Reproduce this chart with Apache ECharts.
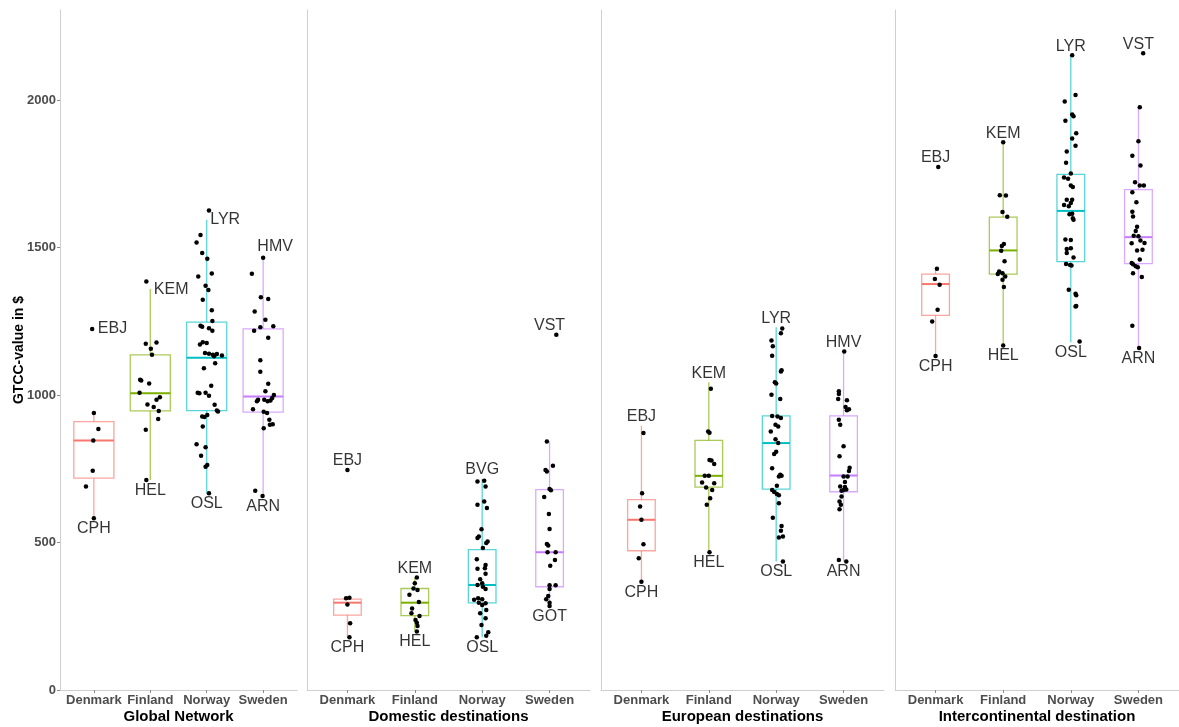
<!DOCTYPE html>
<html>
<head>
<meta charset="utf-8">
<script src="https://cdn.jsdelivr.net/npm/echarts@6/dist/echarts.min.js"></script>
<style>
html,body{margin:0;padding:0;background:#fff;}
#chart{width:1179px;height:727px;}
</style>
</head>
<body>
<div id="chart"></div>
<script>
// ---------- DATA ----------
const categories = ['Denmark', 'Finland', 'Norway', 'Sweden'];
const panelTitles = ['Global Network', 'Domestic destinations', 'European destinations', 'Intercontinental destination'];
const yTicks = [0, 500, 1000, 1500, 2000];
const yAxisTitle = 'GTCC-value in $';

// box statistics per category: [lower whisker, Q1, median, Q3, upper whisker]
const globalBoxes = [[582, 718, 846, 910, 939], [712, 946, 1006, 1136, 1359], [667, 947, 1126, 1247, 1594], [658, 942, 995, 1224, 1464]];
const domesticBoxes = [[179, 254, 296, 308, 313], [198, 252, 296, 344, 382], [179, 295, 356, 476, 715], [283, 350, 467, 679, 842]];
const europeanBoxes = [[367, 472, 577, 645, 896], [467, 688, 726, 846, 1043], [436, 681, 837, 929, 1230], [436, 672, 727, 929, 1147]];
const intercontBoxes = [[1132, 1270, 1376, 1410, 1428], [1168, 1410, 1490, 1603, 1857], [1179, 1452, 1624, 1748, 2152], [1160, 1445, 1535, 1696, 1975]];

// airports: [jitter offset (category units), GTCC value]
const globalDenmark = [[0, 939], [0.08, 885], [-0.01, 846], [-0.02, 743], [-0.14, 690], [0, 582], [-0.03, 1224]];
const globalFinland = [[-0.07, 1385], [-0.08, 1174], [0.11, 1178], [0.01, 1157], [0.03, 1136], [-0.18, 1052], [-0.16, 1049], [-0.02, 1039], [-0.19, 1008], [0.17, 992], [0.11, 984], [-0.05, 968], [0.06, 959], [0.15, 946], [0.14, 919], [-0.08, 882], [-0.07, 712]];
const globalNorway = [[0.04, 1625], [-0.11, 1542], [-0.18, 1517], [-0.08, 1481], [0.01, 1462], [-0.15, 1402], [0.09, 1412], [-0.02, 1370], [0.03, 1356], [-0.07, 1323], [0.09, 1287], [0.1, 1251], [-0.11, 1235], [-0.08, 1231], [0.04, 1226], [0.1, 1218], [-0.12, 1171], [-0.07, 1179], [0, 1176], [-0.03, 1142], [0.04, 1140], [0.11, 1136], [0.18, 1139], [0.13, 1131], [0.27, 1134], [0.15, 1108], [-0.05, 1091], [0.08, 1031], [-0.16, 1008], [-0.13, 1006], [-0.02, 1008], [0.04, 997], [0.14, 967], [0.18, 947], [0.2, 944], [-0.08, 927], [-0.04, 925], [0.01, 932], [-0.07, 893], [-0.18, 833], [-0.1, 794], [-0.02, 823], [0.01, 763], [-0.02, 757], [0.04, 667]];
const globalSweden = [[0, 1465], [-0.2, 1411], [-0.04, 1331], [0.09, 1325], [-0.15, 1283], [0.04, 1255], [-0.16, 1218], [-0.05, 1230], [0.18, 1233], [0.09, 1194], [-0.05, 1118], [-0.05, 1079], [0.09, 1038], [0.04, 1013], [-0.09, 984], [-0.11, 979], [0.02, 984], [0.08, 979], [0.13, 981], [0.19, 1000], [0.16, 990], [-0.18, 952], [0.01, 943], [0.07, 939], [0.11, 916], [0.17, 901], [0.12, 899], [0.01, 887], [-0.14, 675], [-0.01, 658]];

const domesticDenmark = [[-0.02, 311], [0.03, 313], [0, 290], [0.04, 226], [0.03, 179], [0, 746]];
const domesticFinland = [[0.03, 381], [0, 362], [-0.02, 344], [0.04, 339], [-0.08, 323], [0.06, 298], [-0.04, 276], [-0.05, 260], [0.07, 251], [0.01, 237], [0.03, 228], [0.04, 217], [0.03, 198]];
const domesticNorway = [[-0.07, 707], [0.03, 709], [0.05, 690], [-0.07, 628], [0.03, 639], [0.07, 617], [-0.01, 545], [-0.05, 520], [-0.07, 515], [0.08, 503], [0.06, 498], [0.01, 481], [-0.08, 443], [0.05, 424], [0.04, 413], [-0.07, 411], [0.05, 394], [-0.03, 375], [0, 362], [-0.07, 356], [0.01, 350], [0.05, 342], [-0.06, 311], [0, 308], [-0.12, 306], [-0.05, 296], [0.05, 294], [0, 288], [0.06, 271], [-0.03, 260], [0.05, 243], [-0.01, 220], [-0.08, 179], [0.09, 196], [0.06, 184]];
const domesticSweden = [[-0.04, 842], [0.05, 760], [-0.06, 746], [-0.04, 741], [0, 681], [0.02, 677], [-0.08, 654], [-0.01, 597], [0, 546], [-0.04, 495], [-0.02, 490], [0.09, 467], [-0.03, 467], [0.08, 441], [0.01, 421], [0, 355], [0.09, 355], [0, 342], [-0.02, 319], [-0.05, 308], [0, 296], [0, 285], [0.1, 1204]];

const europeanDenmark = [[0.03, 871], [0.01, 667], [-0.02, 622], [0, 577], [0.03, 494], [-0.04, 447], [0, 367]];
const europeanFinland = [[0.03, 1021], [-0.01, 876], [0.01, 872], [0.01, 780], [0.04, 778], [0.08, 766], [-0.06, 726], [0, 726], [-0.1, 703], [0.08, 701], [-0.04, 686], [0.05, 678], [0.02, 650], [-0.03, 628], [0.01, 467]];
const europeanNorway = [[0.09, 1225], [0.07, 1209], [-0.07, 1185], [-0.05, 1165], [-0.06, 1133], [0.07, 1080], [0.08, 1084], [-0.02, 1043], [0, 1039], [-0.07, 1001], [0.06, 986], [-0.06, 929], [0.02, 927], [0.07, 922], [-0.01, 899], [0.03, 893], [-0.08, 876], [-0.01, 850], [0.03, 837], [0, 808], [-0.03, 800], [-0.06, 752], [0.06, 730], [0.08, 726], [0.04, 724], [0.01, 692], [-0.06, 678], [-0.03, 671], [0.01, 664], [0.04, 660], [0.04, 633], [-0.05, 584], [0.08, 556], [0.07, 540], [0.04, 517], [0.1, 520], [0.1, 436]];
const europeanSweden = [[0.01, 1147], [-0.07, 1013], [-0.07, 1003], [-0.08, 986], [0.05, 982], [0.03, 959], [0.08, 952], [0.05, 948], [-0.07, 916], [-0.05, 899], [0, 826], [-0.06, 792], [0.09, 753], [0.08, 742], [0, 724], [0.06, 724], [0.02, 705], [-0.05, 690], [0.02, 688], [0, 678], [-0.03, 675], [0.04, 680], [-0.03, 656], [-0.06, 639], [-0.04, 628], [-0.06, 613], [-0.07, 441], [0.04, 436]];

const intercontDenmark = [[0.04, 1773], [0.02, 1428], [-0.01, 1393], [0.06, 1374], [0.03, 1289], [-0.05, 1249], [0, 1132]];
const intercontFinland = [[0, 1857], [-0.05, 1677], [0.04, 1676], [-0.01, 1620], [0.06, 1604], [0.01, 1512], [-0.02, 1505], [-0.03, 1489], [0.02, 1453], [-0.06, 1419], [-0.01, 1413], [-0.08, 1410], [0.03, 1402], [-0.01, 1391], [0.01, 1366], [0, 1168]];
const intercontNorway = [[0.02, 2152], [0.07, 2017], [-0.09, 1995], [0.02, 1951], [0.04, 1945], [-0.08, 1930], [0.08, 1887], [0.02, 1869], [0.07, 1845], [-0.06, 1825], [-0.07, 1787], [0, 1751], [-0.1, 1737], [-0.04, 1733], [0, 1710], [0.03, 1705], [-0.06, 1662], [0.02, 1662], [0, 1651], [-0.1, 1644], [-0.03, 1640], [0.02, 1614], [-0.02, 1613], [0.03, 1599], [0.04, 1594], [-0.08, 1527], [0, 1525], [-0.06, 1495], [0, 1497], [-0.06, 1481], [0.04, 1466], [-0.07, 1444], [-0.01, 1441], [0.01, 1439], [-0.03, 1357], [0.07, 1343], [0.08, 1338], [0.07, 1300], [0.08, 1302], [0.13, 1181]];
const intercontSweden = [[0.07, 2158], [0.02, 1975], [0, 1860], [-0.09, 1811], [0.03, 1778], [-0.05, 1721], [0.02, 1710], [0.08, 1710], [-0.09, 1687], [-0.03, 1653], [-0.09, 1621], [-0.08, 1605], [-0.02, 1570], [-0.04, 1556], [-0.07, 1540], [0, 1538], [0.03, 1524], [0.09, 1515], [-0.1, 1514], [-0.02, 1490], [0.06, 1492], [0.02, 1459], [-0.1, 1447], [-0.08, 1443], [-0.04, 1436], [-0.01, 1433], [-0.08, 1413], [0.05, 1400], [-0.09, 1235], [0.01, 1159]];

// airport labels: [category index, code, GTCC value, side]
const globalLabels = [[0, 'EBJ', 1224, 'top'], [0, 'CPH', 582, 'bottom'], [1, 'KEM', 1359, 'top'], [1, 'HEL', 712, 'bottom'], [2, 'LYR', 1594, 'top'], [2, 'OSL', 667, 'bottom'], [3, 'HMV', 1464, 'top'], [3, 'ARN', 658, 'bottom']];
const domesticLabels = [[0, 'EBJ', 746, 'top'], [0, 'CPH', 179, 'bottom'], [1, 'KEM', 382, 'top'], [1, 'HEL', 198, 'bottom'], [2, 'BVG', 715, 'top'], [2, 'OSL', 179, 'bottom'], [3, 'VST', 1204, 'top'], [3, 'GOT', 283, 'bottom']];
const europeanLabels = [[0, 'EBJ', 896, 'top'], [0, 'CPH', 367, 'bottom'], [1, 'KEM', 1043, 'top'], [1, 'HEL', 467, 'bottom'], [2, 'LYR', 1230, 'top'], [2, 'OSL', 436, 'bottom'], [3, 'HMV', 1147, 'top'], [3, 'ARN', 436, 'bottom']];
const intercontLabels = [[0, 'EBJ', 1773, 'top'], [0, 'CPH', 1132, 'bottom'], [1, 'KEM', 1857, 'top'], [1, 'HEL', 1168, 'bottom'], [2, 'LYR', 2152, 'top'], [2, 'OSL', 1179, 'bottom'], [3, 'VST', 2158, 'top'], [3, 'ARN', 1160, 'bottom']];

// ---------- STYLE / LAYOUT ----------
const colors = ['#F8766D', '#7CAE00', '#00BFC4', '#C77CFF'];
const FONT = '"Liberation Sans", Arial, Helvetica, sans-serif';
const grids = [
  { left: 60, width: 237 },
  { left: 307, width: 283 },
  { left: 601, width: 283 },
  { left: 895, width: 284 }
];
const boxWidthUnits = [0.71, 0.41, 0.41, 0.41];
const yMax = 2305;
const sidePlacement = { top: { dx: 0, dy: -9, align: 'center' }, bottom: { dx: 0, dy: 10.5, align: 'center' } };
const labelOverrides = {
  '0-EBJ': { dx: 4, dy: 0, align: 'left' },
  '0-KEM': { dx: 3.5, dy: 0.5, align: 'left' },
  '0-LYR': { dx: 3.5, dy: 0, align: 'left' },
  '0-HMV': { dx: 12, dy: -12, align: 'center' }
};

const panels = [
  { boxes: globalBoxes, points: [globalDenmark, globalFinland, globalNorway, globalSweden], labels: globalLabels },
  { boxes: domesticBoxes, points: [domesticDenmark, domesticFinland, domesticNorway, domesticSweden], labels: domesticLabels },
  { boxes: europeanBoxes, points: [europeanDenmark, europeanFinland, europeanNorway, europeanSweden], labels: europeanLabels },
  { boxes: intercontBoxes, points: [intercontDenmark, intercontFinland, intercontNorway, intercontSweden], labels: intercontLabels }
];

function withAlpha(hex, a) {
  const n = parseInt(hex.slice(1), 16);
  return 'rgba(' + ((n >> 16) & 255) + ',' + ((n >> 8) & 255) + ',' + (n & 255) + ',' + a + ')';
}

function makeBoxRenderer(halfW) {
  return function (params, api) {
    const x = api.value(0);
    const lo = api.coord([x, api.value(1)]);
    const q1 = api.coord([x, api.value(2)]);
    const md = api.coord([x, api.value(3)]);
    const q3 = api.coord([x, api.value(4)]);
    const hi = api.coord([x, api.value(5)]);
    const left = api.coord([x - halfW, api.value(3)])[0];
    const right = api.coord([x + halfW, api.value(3)])[0];
    const c = colors[params.dataIndex];
    const light = withAlpha(c, 0.65);
    return {
      type: 'group',
      children: [
        { type: 'line', shape: { x1: hi[0], y1: hi[1], x2: q3[0], y2: q3[1] }, style: { stroke: light, lineWidth: 1.3 } },
        { type: 'line', shape: { x1: q1[0], y1: q1[1], x2: lo[0], y2: lo[1] }, style: { stroke: light, lineWidth: 1.3 } },
        { type: 'rect', shape: { x: left, y: q3[1], width: right - left, height: q1[1] - q3[1] }, style: { stroke: light, fill: 'rgba(255,255,255,0)', lineWidth: 1.3 } },
        { type: 'line', shape: { x1: left, y1: md[1], x2: right, y2: md[1] }, style: { stroke: c, lineWidth: 2 } }
      ]
    };
  };
}

const option = {
  animation: false,
  backgroundColor: '#ffffff',
  textStyle: { fontFamily: FONT },
  grid: grids.map(g => ({ left: g.left, width: g.width, top: 10, height: 680, containLabel: false, outerBoundsMode: 'none' })),
  xAxis: grids.map((g, i) => ({
    type: 'value', gridIndex: i, min: 0.4, max: 4.6,
    axisLine: { show: true, onZero: false, lineStyle: { color: '#cfcfcf', width: 1 } },
    axisTick: { show: true, customValues: [1, 2, 3, 4], length: 3, lineStyle: { color: '#8a8a8a' } },
    axisLabel: {
      show: true, customValues: [1, 2, 3, 4], margin: 4,
      formatter: v => categories[Math.round(v) - 1] || '',
      fontFamily: FONT, fontWeight: 'bold', fontSize: 13, color: '#4d4d4d'
    },
    splitLine: { show: false },
    name: panelTitles[i], nameLocation: 'middle', nameGap: 19, nameMoveOverlap: false,
    nameTextStyle: { fontFamily: FONT, fontWeight: 'bold', fontSize: 15, color: '#000' }
  })),
  yAxis: grids.map((g, i) => ({
    type: 'value', gridIndex: i, min: 0, max: yMax,
    axisLine: { show: true, onZero: false, lineStyle: { color: '#cfcfcf', width: 1 } },
    axisTick: { show: i === 0, customValues: yTicks, length: 3, lineStyle: { color: '#8a8a8a' } },
    axisLabel: {
      show: i === 0, customValues: yTicks, margin: 4,
      formatter: v => String(v),
      fontFamily: FONT, fontWeight: 'bold', fontSize: 13, color: '#4d4d4d'
    },
    splitLine: { show: false },
    name: i === 0 ? yAxisTitle : '', nameLocation: 'middle', nameGap: 34, nameMoveOverlap: false,
    nameTextStyle: { fontFamily: FONT, fontWeight: 'bold', fontSize: 14, color: '#000' }
  })),
  series: []
};

panels.forEach((p, pi) => {
  option.series.push({
    type: 'custom', xAxisIndex: pi, yAxisIndex: pi, silent: true, z: 2,
    renderItem: makeBoxRenderer(boxWidthUnits[pi] / 2),
    data: p.boxes.map((b, ci) => [ci + 1].concat(b))
  });
  const pts = [];
  p.points.forEach((arr, ci) => arr.forEach(d => pts.push([ci + 1 + d[0], d[1]])));
  option.series.push({
    type: 'scatter', xAxisIndex: pi, yAxisIndex: pi, silent: true, z: 3,
    symbol: 'circle', symbolSize: 4.5, itemStyle: { color: '#000', opacity: 1 },
    data: pts
  });
  option.series.push({
    type: 'scatter', xAxisIndex: pi, yAxisIndex: pi, silent: true, z: 4,
    symbolSize: 0,
    data: p.labels.map(l => {
      const pl = labelOverrides[pi + '-' + l[1]] || sidePlacement[l[3]];
      return {
        value: [l[0] + 1, l[2], l[1]],
        label: {
          show: true, position: 'inside', formatter: l[1],
          align: pl.align, verticalAlign: 'middle', offset: [pl.dx, pl.dy],
          fontFamily: FONT, fontSize: 16, color: '#000'
        }
      };
    })
  });
});

const chart = echarts.init(document.getElementById('chart'), null, { renderer: 'canvas' });
chart.setOption(option);
</script>
</body>
</html>
